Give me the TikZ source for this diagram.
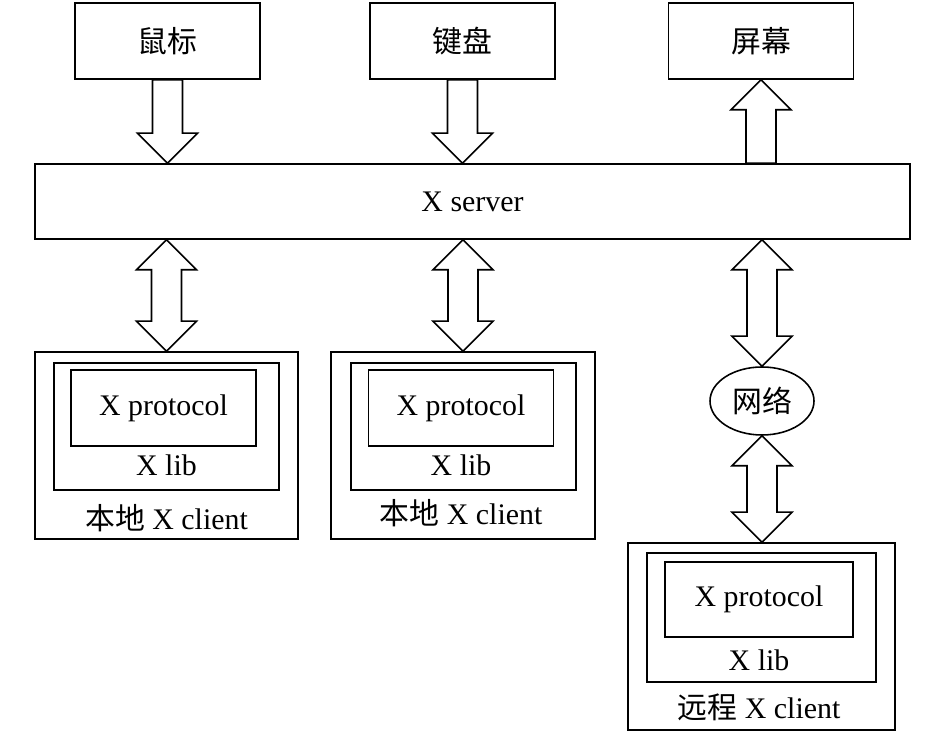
\documentclass[tikz,border=0pt]{standalone}
\usepackage{fontspec}
\setmainfont{Liberation Serif}
\newfontfamily\cjk{Noto Sans CJK SC}
\usetikzlibrary{positioning,calc,shapes.geometric}

\tikzset{
  box/.style={draw, line width=0.9pt, inner sep=0pt},
  fatarrow/.style={draw, line width=0.9pt, fill=white, line join=miter},
}

% hohle Pfeile: x von #1, Spitze bzw. Ende bei #2
\newcommand{\arrowdown}[2]{%
  \draw[fatarrow] let \p1=(#1), \p2=(#2) in
    (\x1-0.3cm,\y1) -- (\x1+0.3cm,\y1) -- (\x1+0.3cm,\y2+0.6cm) -- (\x1+0.6cm,\y2+0.6cm)
    -- (\x1,\y2) -- (\x1-0.6cm,\y2+0.6cm) -- (\x1-0.3cm,\y2+0.6cm) -- cycle;}
\newcommand{\arrowup}[2]{%
  \draw[fatarrow] let \p1=(#1), \p2=(#2) in
    (\x1,\y1) -- (\x1+0.6cm,\y1-0.6cm) -- (\x1+0.3cm,\y1-0.6cm) -- (\x1+0.3cm,\y2)
    -- (\x1-0.3cm,\y2) -- (\x1-0.3cm,\y1-0.6cm) -- (\x1-0.6cm,\y1-0.6cm) -- cycle;}
\newcommand{\arrowboth}[2]{%
  \draw[fatarrow] let \p1=(#1), \p2=(#2) in
    (\x1,\y1) -- (\x1+0.6cm,\y1-0.6cm) -- (\x1+0.3cm,\y1-0.6cm) -- (\x1+0.3cm,\y2+0.6cm)
    -- (\x1+0.6cm,\y2+0.6cm) -- (\x1,\y2) -- (\x1-0.6cm,\y2+0.6cm) -- (\x1-0.3cm,\y2+0.6cm)
    -- (\x1-0.3cm,\y1-0.6cm) -- (\x1-0.6cm,\y1-0.6cm) -- cycle;}

\begin{document}
\begin{tikzpicture}[font=\fontsize{17}{20}\selectfont]

    \useasboundingbox (0,0) rectangle (18.9,14.66);

    % Eingabe und Ausgabe
    \node[box, minimum width=3.7cm, minimum height=1.52cm] (mouse) at (3.35,13.84) {\cjk 鼠标};
    \node[box, minimum width=3.7cm, minimum height=1.52cm] (keyboard) at (9.25,13.84) {\cjk 键盘};
    \node[box, minimum width=3.7cm, minimum height=1.52cm] (screen) at (15.22,13.84) {\cjk 屏幕};

    % Server
    \node[box, minimum width=17.5cm, minimum height=1.5cm] (server) at (9.45,10.63) {X server};

    % lokale Clients
    \node[box, minimum width=5.26cm, minimum height=3.74cm] (local1) at (3.33,5.75) {};
    \node[box, minimum width=4.5cm, minimum height=2.54cm] (lib1) at (3.33,6.13) {};
    \node[box, minimum width=3.7cm, minimum height=1.52cm] (proto1) at (3.27,6.5) {X protocol};
    \node (libtxt1) at (3.33,5.36) {X lib};
    \node (localtxt1) at (3.33,4.30) {{\cjk 本地} X client};

    \node[box, minimum width=5.28cm, minimum height=3.74cm] (local2) at (9.26,5.75) {};
    \node[box, minimum width=4.5cm, minimum height=2.54cm] (lib2) at (9.27,6.13) {};
    \node[box, minimum width=3.7cm, minimum height=1.52cm] (proto2) at (9.22,6.5) {X protocol};
    \node (libtxt2) at (9.22,5.36) {X lib};
    \node (localtxt2) at (9.22,4.40) {{\cjk 本地} X client};

    % Netzwerk und entfernter Client
    \node[ellipse, draw, line width=0.9pt, minimum width=2.08cm, minimum height=1.36cm, inner sep=0pt] (net) at (15.24,6.64) {\cjk 网络};

    \node[box, minimum width=5.34cm, minimum height=3.74cm] (remote) at (15.23,1.93) {};
    \node[box, minimum width=4.58cm, minimum height=2.58cm] (lib3) at (15.23,2.31) {};
    \node[box, minimum width=3.76cm, minimum height=1.5cm] (proto3) at (15.18,2.67) {X protocol};
    \node (libtxt3) at (15.18,1.46) {X lib};
    \node (remotetxt) at (15.18,0.52) {{\cjk 远程} X client};

    % Pfeile
    \arrowdown{mouse.south}{server.north}
    \arrowdown{keyboard.south}{server.north}
    \arrowup{screen.south}{server.north}
    \arrowboth{server.south -| local1.north}{local1.north}
    \arrowboth{server.south -| local2.north}{local2.north}
    \arrowboth{server.south -| net.north}{net.north}
    \arrowboth{net.south}{remote.north}

\end{tikzpicture}
\end{document}
